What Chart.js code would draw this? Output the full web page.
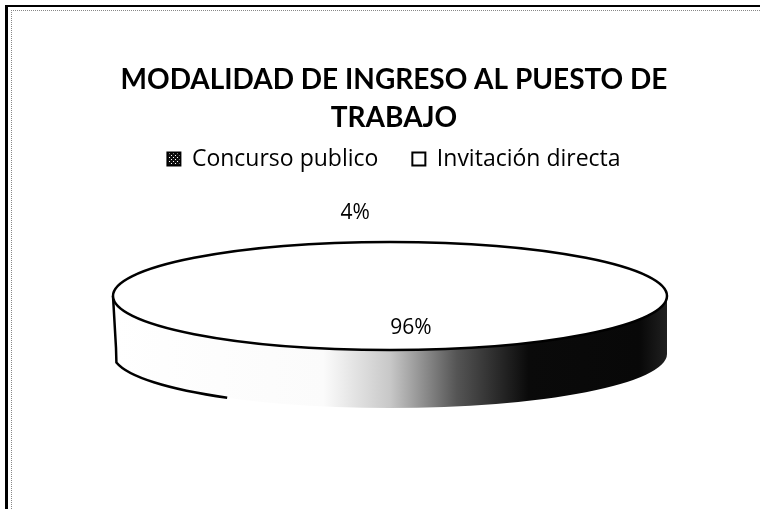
<!DOCTYPE html>
<html>
<head>
<meta charset="utf-8">
<script src="https://cdn.jsdelivr.net/npm/chart.js@4.4.0/dist/chart.umd.min.js"></script>
<style>
  html, body { margin: 0; padding: 0; background: #fff; }
  #wrap { position: relative; width: 760px; height: 509px; overflow: hidden; }
  #chart { position: absolute; left: 0; top: 0; }
  .frame { position: absolute; left: 5px; top: 5px; width: 800px; height: 600px;
    border-left: 3px solid #000; border-top: 2px solid #000; pointer-events: none; }
  .frame-in { position: absolute; left: 11px; top: 10px; width: 800px; height: 600px;
    border-left: 1px dotted #888; border-top: 1px dotted #888; pointer-events: none; }
</style>
</head>
<body>
<div id="wrap">
  <canvas id="chart" width="760" height="509"></canvas>
  <div class="frame"></div>
  <div class="frame-in"></div>
</div>
<script>
const titleLines = ['MODALIDAD DE INGRESO AL PUESTO DE', 'TRABAJO'];
const categories = ['Concurso publico', 'Invitación directa'];
const percents = [4, 96];

// where the flattened 3D pie sits on the page
const pie = { cx: 390, cy: 296, rx: 277, ry: 54, depth: 58 };

const TITLE_FONT = 'Lato, "Open Sans", sans-serif';
const TEXT_FONT = '"Open Sans", Lato, sans-serif';

function makeDotPattern() {
  const c = document.createElement('canvas');
  c.width = 4; c.height = 4;
  const g = c.getContext('2d');
  g.fillStyle = '#111';
  g.fillRect(0, 0, 4, 4);
  g.fillStyle = '#fff';
  g.fillRect(1, 1, 1, 1);
  g.fillRect(3, 3, 1, 1);
  return g.createPattern(c, 'repeat');
}

const pie3d = {
  id: 'pie3d',
  beforeDatasetsDraw(chart) {
    const ctx = chart.ctx;
    const arc = chart.getDatasetMeta(0).data[0];
    if (!arc) return;
    const { cx, cy, rx, ry, depth } = pie;

    // side band
    ctx.save();
    ctx.beginPath();
    ctx.ellipse(cx, cy, rx, ry, 0, 0, Math.PI);
    ctx.lineTo(cx - rx, cy + depth);
    ctx.ellipse(cx, cy + depth, rx, ry, 0, Math.PI, 0, true);
    ctx.closePath();
    const grad = ctx.createLinearGradient(cx - rx, 0, cx + rx, 0);
    grad.addColorStop(0, '#ffffff');
    grad.addColorStop(0.38, '#fbfbfb');
    grad.addColorStop(0.5, '#c8c8c8');
    grad.addColorStop(0.62, '#555555');
    grad.addColorStop(0.75, '#0a0a0a');
    grad.addColorStop(0.95, '#080808');
    grad.addColorStop(1, '#202020');
    ctx.fillStyle = grad;
    ctx.fill();

    // visible outline of the side (left part)
    ctx.beginPath();
    ctx.moveTo(cx - rx, cy);
    ctx.lineTo(cx - rx + 3, cy + depth - 6);
    ctx.ellipse(cx, cy + depth, rx, ry, 0, Math.PI * 0.95, Math.PI * 0.7, true);
    ctx.lineWidth = 2.5;
    ctx.strokeStyle = '#000';
    ctx.stroke();
    ctx.restore();

    // squash the library's pie into the ellipse
    const R = arc.outerRadius;
    ctx.save();
    ctx.translate(cx, cy);
    ctx.scale(rx / R, ry / R);
    ctx.translate(-arc.x, -arc.y);
  },
  afterDatasetsDraw(chart) {
    const ctx = chart.ctx;
    ctx.restore();
    const { cx, cy, rx, ry } = pie;
    ctx.save();
    ctx.beginPath();
    ctx.ellipse(cx, cy, rx, ry, 0, 0, Math.PI * 2);
    ctx.lineWidth = 2.5;
    ctx.strokeStyle = '#000';
    ctx.stroke();

    // percentage labels
    const meta = chart.getDatasetMeta(0);
    ctx.font = '21px ' + TEXT_FONT;
    ctx.fillStyle = '#000';
    ctx.textAlign = 'center';
    ctx.textBaseline = 'middle';
    meta.data.forEach((el, i) => {
      const mid = (el.startAngle + el.endAngle) / 2;
      let x, y;
      if (percents[i] < 10) {
        x = cx + rx * Math.cos(mid);
        y = cy + ry * Math.sin(mid) - 29;
      } else {
        x = cx + rx * 0.6 * Math.cos(mid);
        y = cy + ry * 0.6 * Math.sin(mid);
      }
      ctx.fillText(percents[i] + '%', x, y);
    });
    ctx.restore();
  }
};

const dots = makeDotPattern();

new Chart(document.getElementById('chart'), {
  type: 'pie',
  data: {
    labels: categories,
    datasets: [{
      data: percents,
      backgroundColor: ['#ffffff', '#ffffff'],
      borderWidth: 0
    }]
  },
  options: {
    responsive: false,
    animation: false,
    rotation: -14.4,
    layout: { padding: { top: 61, left: 28, bottom: 20 } },
    plugins: {
      tooltip: { enabled: false },
      title: {
        display: true,
        text: titleLines,
        color: '#000',
        font: { family: TITLE_FONT, size: 28, weight: 'bold', lineHeight: 1.35 },
        padding: { top: 0, bottom: -23 }
      },
      legend: {
        display: true,
        position: 'top',
        labels: {
          color: '#000',
          font: { family: TEXT_FONT, size: 23 },
          boxWidth: 13,
          boxHeight: 13,
          padding: 34,
          generateLabels(chart) {
            return categories.map((c, i) => ({
              text: c,
              fillStyle: i === 0 ? dots : '#ffffff',
              strokeStyle: '#000',
              lineWidth: 2,
              hidden: false,
              index: i
            }));
          }
        }
      }
    }
  },
  plugins: [pie3d]
});
</script>
</body>
</html>
